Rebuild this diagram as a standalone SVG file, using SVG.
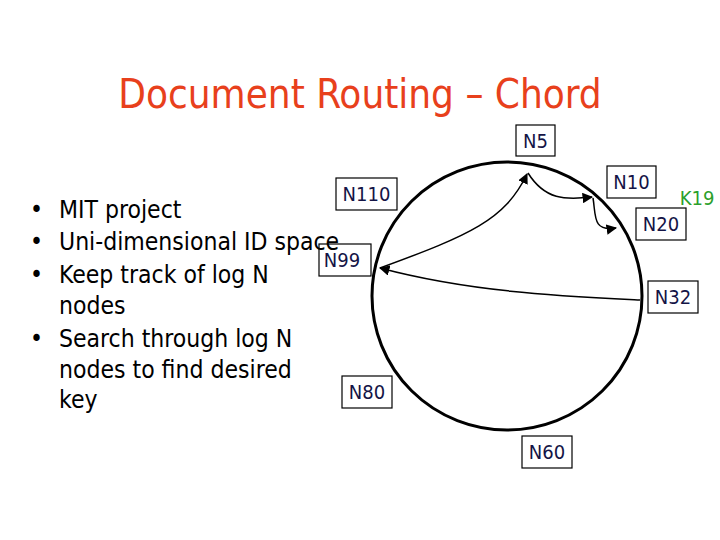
<svg xmlns="http://www.w3.org/2000/svg" width="720" height="540" viewBox="0 0 720 540">
<style>
.box{fill:#fff;stroke:#000;stroke-width:1.2}
.lbl{font-family:"DejaVu Sans Condensed","DejaVu Sans",sans-serif;font-size:20px;fill:#141446;text-anchor:middle}
.bul{font-family:"DejaVu Sans Condensed","DejaVu Sans",sans-serif;font-size:24.5px;fill:#000}
.arr{fill:none;stroke:#000;stroke-width:1.5;marker-end:url(#ah)}
</style>
<defs><marker id="ah" viewBox="0 0 10 10" refX="9" refY="5" markerWidth="7" markerHeight="7" orient="auto"><path d="M0,0L10,5L0,10z" fill="#000"/></marker></defs>
<rect width="720" height="540" fill="#fff"/>
<text x="360" y="108" text-anchor="middle" font-family="'DejaVu Sans Condensed','DejaVu Sans',sans-serif" font-size="40" fill="#e8401c">Document Routing – Chord</text>
<ellipse id="ring" cx="507" cy="296" rx="135" ry="134" fill="none" stroke="#000" stroke-width="3"/>
<g id="connectors">
<path class="arr" d="M640,300 C560,296 470,292 380,268"/>
<path class="arr" d="M380,268 C470,235 505,220 527,174"/>
<path class="arr" d="M528,173 C545,200 565,200 592,197"/>
<path class="arr" d="M593,198 C596,215 592,232 616,228"/>
</g>
<g id="N5"><rect class="box" x="516" y="125" width="39" height="31"/><text class="lbl" x="535.5" y="148">N5</text></g>
<g id="N10"><rect class="box" x="607" y="166" width="49" height="32"/><text class="lbl" x="631.5" y="189">N10</text></g>
<g id="N20"><rect class="box" x="636" y="208" width="50" height="32"/><text class="lbl" x="661" y="231">N20</text></g>
<g id="K19"><text class="lbl" x="697" y="205" style="fill:#2ca02c">K19</text></g>
<g id="N110"><rect class="box" x="336" y="178" width="61" height="32"/><text class="lbl" x="366.5" y="201">N110</text></g>
<g id="N99"><rect class="box" x="319" y="244" width="52" height="32"/><text class="lbl" x="342" y="267">N99</text></g>
<g id="N32"><rect class="box" x="648" y="281" width="50" height="32"/><text class="lbl" x="673" y="304">N32</text></g>
<g id="N80"><rect class="box" x="342" y="376" width="50" height="32"/><text class="lbl" x="367" y="399">N80</text></g>
<g id="N60"><rect class="box" x="522" y="436" width="50" height="32"/><text class="lbl" x="547" y="459">N60</text></g>
<g id="bullets" class="bul">
<text x="30" y="218">•</text><text x="59" y="218">MIT project</text>
<text x="30" y="250">•</text><text x="59" y="250">Uni-dimensional ID space</text>
<text x="30" y="283">•</text><text x="59" y="283">Keep track of log N</text>
<text x="59" y="314">nodes</text>
<text x="30" y="347">•</text><text x="59" y="347">Search through log N</text>
<text x="59" y="378">nodes to find desired</text>
<text x="59" y="408">key</text>
</g>
</svg>
